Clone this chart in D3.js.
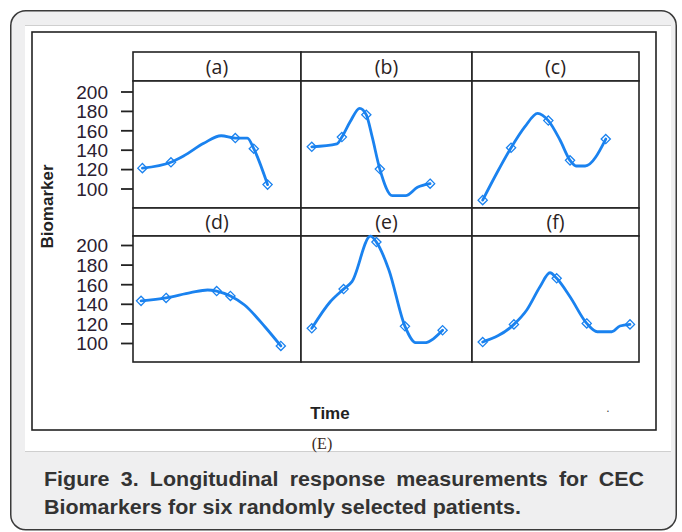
<!DOCTYPE html>
<html>
<head>
<meta charset="utf-8">
<script src="https://cdn.jsdelivr.net/npm/d3@7"></script>
<style>
  html, body { margin: 0; padding: 0; background: #ffffff; }
  svg { display: block; }
</style>
</head>
<body>
<svg id="chart" width="682" height="532"></svg>
<script>
// ---- data -------------------------------------------------------------
const panelLabels = ["(a)", "(b)", "(c)", "(d)", "(e)", "(f)"];
const yTicks = [100, 120, 140, 160, 180, 200];

// Observed visits: time (% of follow-up window) and biomarker value
const obsTime = [
  [5.6, 22.6, 60.9, 71.9, 80.1],
  [6.3, 23.9, 38.2, 46.1, 75.5],
  [6.4, 23.4, 45.7, 58.7, 80.1],
  [4.8, 19.7, 49.8, 58.0, 88.0],
  [6.3, 24.9, 44.1, 60.8, 82.8],
  [6.4, 25.1, 50.7, 68.7, 94.6]
];
const obsValue = [
  [121, 127, 152, 141, 104],
  [143, 153, 176, 120, 105],
  [88, 142, 170, 129, 151],
  [143, 146, 153, 148, 97],
  [115, 155, 203, 117, 113],
  [101, 119, 166, 120, 119]
];

// Smoothed individual profile through each patient's visits
const fitTime = [
  [5.6, 22.6, 30.1, 42.1, 52.5, 60.9, 68.1, 71.9, 80.1],
  [6.3, 21.0, 23.9, 28.8, 34.3, 38.2, 41.6, 46.1, 53.4, 61.2, 68.1, 75.5],
  [6.4, 14.8, 23.4, 31.7, 39.3, 45.7, 52.7, 58.7, 62.3, 67.7, 80.1],
  [4.8, 19.7, 34.3, 44.4, 49.8, 58.0, 66.4, 78.5, 88.0],
  [6.3, 17.1, 24.9, 29.8, 40.6, 44.1, 51.4, 60.8, 67.1, 72.0, 82.8],
  [6.4, 25.1, 32.8, 40.7, 46.7, 50.7, 58.7, 68.7, 75.0, 83.7, 88.6, 94.6]
];
const fitValue = [
  [121, 127, 133.5, 146.6, 154.4, 152, 152, 141, 104],
  [143, 146, 153, 169, 182.7, 176, 153.4, 120, 92.6, 92.6, 101.2, 105],
  [88, 115.7, 142, 163.7, 177.5, 170, 150, 129, 123.2, 123.2, 151],
  [143, 146, 151.3, 154.1, 153, 148, 138.8, 116.6, 97],
  [115, 142.1, 155, 162.6, 209, 203, 174.5, 117, 100.3, 100.3, 113],
  [101, 119, 133.7, 157.4, 171.7, 166, 147.2, 120, 111.5, 111.5, 117.3, 119]
];

const captionLines = [
  "Figure 3. Longitudinal response measurements for CEC",
  "Biomarkers for six randomly selected patients."
];

// ---- layout -----------------------------------------------------------
const svg = d3.select("#chart");
const blue = "#1a82ef";
const ink = "#222222";

// card
svg.append("rect")
  .attr("x", 10.75).attr("y", 10.75)
  .attr("width", 665.5).attr("height", 519)
  .attr("rx", 15).attr("ry", 15)
  .attr("fill", "#efeff0").attr("stroke", "#3a3a3a").attr("stroke-width", 1.5);

// white figure area with hairline rules
svg.append("rect").attr("x", 25).attr("y", 25.5).attr("width", 646).attr("height", 426).attr("fill", "#ffffff");
svg.append("line").attr("x1", 25).attr("x2", 671).attr("y1", 25.5).attr("y2", 25.5)
  .attr("stroke", "#cfcfcf").attr("stroke-width", 1);
svg.append("line").attr("x1", 25).attr("x2", 671).attr("y1", 451.5).attr("y2", 451.5)
  .attr("stroke", "#cfcfcf").attr("stroke-width", 1);

// outer plot frame
svg.append("rect").attr("x", 32).attr("y", 32).attr("width", 624).attr("height", 398)
  .attr("fill", "none").attr("stroke", ink).attr("stroke-width", 1.6);

const colEdges = [133, 301, 472, 639];
const rows = [
  { stripTop: 52, panelTop: 81, panelBottom: 208, y: d3.scaleLinear().domain([100, 200]).range([188.5, 91.5]) },
  { stripTop: 208, panelTop: 236, panelBottom: 362, y: d3.scaleLinear().domain([100, 200]).range([343, 245]) }
];

const line = d3.line().curve(d3.curveMonotoneX);

panelLabels.forEach((lab, i) => {
  const r = rows[Math.floor(i / 3)];
  const c = i % 3;
  const x0 = colEdges[c], x1 = colEdges[c + 1];
  const x = d3.scaleLinear().domain([0, 100]).range([x0, x1]);
  const y = r.y;
  const g = svg.append("g");

  // strip
  g.append("rect").attr("x", x0).attr("y", r.stripTop).attr("width", x1 - x0).attr("height", r.panelTop - r.stripTop)
    .attr("fill", "#ffffff").attr("stroke", ink).attr("stroke-width", 1.6);
  g.append("text").attr("x", (x0 + x1) / 2).attr("y", (r.stripTop + r.panelTop) / 2 + 7)
    .attr("text-anchor", "middle")
    .attr("font-family", "'Open Sans', 'DejaVu Sans', sans-serif").attr("font-size", 19.5)
    .attr("fill", "#2a2222").text(lab);

  // panel
  g.append("rect").attr("x", x0).attr("y", r.panelTop).attr("width", x1 - x0).attr("height", r.panelBottom - r.panelTop)
    .attr("fill", "#ffffff").attr("stroke", ink).attr("stroke-width", 1.6);

  // smoothed profile
  const pts = fitTime[i].map((t, k) => [x(t), y(fitValue[i][k])]);
  g.append("path").attr("d", line(pts))
    .attr("fill", "none").attr("stroke", blue).attr("stroke-width", 2.8)
    .attr("stroke-linejoin", "round").attr("stroke-linecap", "round");

  // observed visits as open diamonds
  g.selectAll("path.mk").data(obsTime[i].map((t, k) => ({ t, v: obsValue[i][k] })))
    .join("path").attr("class", "mk")
    .attr("d", "M0,-4.6L4.6,0L0,4.6L-4.6,0Z")
    .attr("transform", d => `translate(${x(d.t)},${y(d.v)})`)
    .attr("fill", "none").attr("stroke", blue).attr("stroke-width", 1.3);

  // y axis on first column
  if (c === 0) {
    const ax = svg.append("g").attr("transform", `translate(${x0},0)`)
      .call(d3.axisLeft(y).tickValues(yTicks).tickSize(12).tickPadding(13));
    ax.select(".domain").remove();
    ax.selectAll(".tick line").attr("stroke", ink).attr("stroke-width", 1.8);
    ax.selectAll(".tick text")
      .attr("font-family", "'Liberation Sans', Arial, sans-serif").attr("font-size", 19)
      .attr("fill", "#2a2030").attr("dy", "0.36em");
  }
});

// axis titles
svg.append("text").attr("transform", "translate(53,206.5) rotate(-90)")
  .attr("text-anchor", "middle")
  .attr("font-family", "'Liberation Sans', Arial, sans-serif").attr("font-weight", "bold").attr("font-size", 17)
  .attr("fill", ink).text("Biomarker");
svg.append("text").attr("x", 330).attr("y", 419)
  .attr("text-anchor", "middle")
  .attr("font-family", "'Liberation Sans', Arial, sans-serif").attr("font-weight", "bold").attr("font-size", 17)
  .attr("fill", ink).text("Time");
svg.append("text").attr("x", 608).attr("y", 412)
  .attr("text-anchor", "middle")
  .attr("font-family", "'Liberation Sans', Arial, sans-serif").attr("font-size", 12)
  .attr("fill", "#444").text(".");

// sub-figure tag
svg.append("text").attr("x", 322).attr("y", 449)
  .attr("text-anchor", "middle")
  .attr("font-family", "'Liberation Serif', 'DejaVu Serif', serif").attr("font-size", 16)
  .attr("fill", "#3a2a1c").text("(E)");

// caption: second line sets the glyph width, first line is justified
const cap = svg.append("g")
  .attr("font-family", "'Liberation Sans', Arial, sans-serif")
  .attr("font-weight", "bold").attr("font-size", 20).attr("fill", "#333333");
const l2 = cap.append("text").attr("x", 0).attr("y", 514).text(captionLines[1]);
const sx = 477 / l2.node().getComputedTextLength();
cap.attr("transform", `translate(44,0) scale(${sx},1)`);

const words = captionLines[0].split(" ");
const wordNodes = words.map(w => cap.append("text").attr("y", 486).text(w));
const widths = wordNodes.map(n => n.node().getComputedTextLength());
const gap = (600 / sx - d3.sum(widths)) / (words.length - 1);
let cx = 0;
wordNodes.forEach((n, k) => { n.attr("x", cx); cx += widths[k] + gap; });
</script>
</body>
</html>
